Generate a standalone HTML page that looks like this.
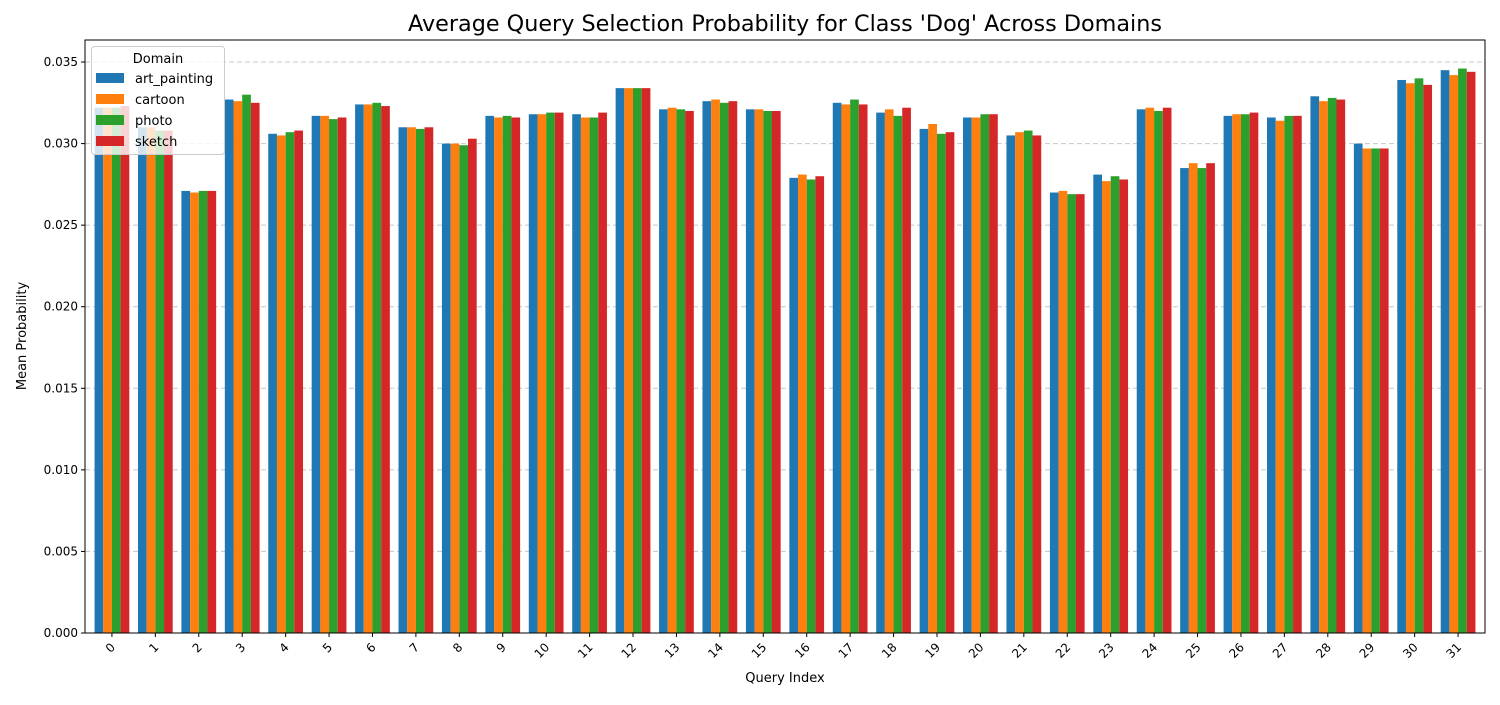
<!DOCTYPE html>
<html><head><meta charset="utf-8"><style>
body{margin:0;background:#fff;font-family:"Liberation Sans","DejaVu Sans",sans-serif;}
svg text{font-family:"DejaVu Sans","Liberation Sans",sans-serif;}
</style></head><body>
<svg id="chart" width="1500" height="700" xmlns="http://www.w3.org/2000/svg">
<text x="785" y="31" font-size="22.3" text-anchor="middle" fill="#000">Average Query Selection Probability for Class 'Dog' Across Domains</text>
<g id="grid"></g><g id="bars"></g><g id="axes"></g>
<text x="785" y="682" font-size="13" text-anchor="middle">Query Index</text>
<text x="26" y="336" font-size="13" text-anchor="middle" transform="rotate(-90 26 336)">Mean Probability</text>
<g id="legend"></g>
</svg>
<script>
const categories = Array.from({length:32},(_,i)=>String(i));
const seriesNames = ['art_painting','cartoon','photo','sketch'];
const seriesColors = ['#1f77b4','#ff7f0e','#2ca02c','#d62728'];
const artPainting = [0.0322,0.0310,0.0271,0.0327,0.0306,0.0317,0.0324,0.0310,0.0300,0.0317,0.0318,0.0318,0.0334,0.0321,0.0326,0.0321,0.0279,0.0325,0.0319,0.0309,0.0316,0.0305,0.0270,0.0281,0.0321,0.0285,0.0317,0.0316,0.0329,0.0300,0.0339,0.0345];
const cartoon = [0.0322,0.0310,0.0270,0.0326,0.0305,0.0317,0.0324,0.0310,0.0300,0.0316,0.0318,0.0316,0.0334,0.0322,0.0327,0.0321,0.0281,0.0324,0.0321,0.0312,0.0316,0.0307,0.0271,0.0277,0.0322,0.0288,0.0318,0.0314,0.0326,0.0297,0.0337,0.0342];
const photo = [0.0322,0.0308,0.0271,0.0330,0.0307,0.0315,0.0325,0.0309,0.0299,0.0317,0.0319,0.0316,0.0334,0.0321,0.0325,0.0320,0.0278,0.0327,0.0317,0.0306,0.0318,0.0308,0.0269,0.0280,0.0320,0.0285,0.0318,0.0317,0.0328,0.0297,0.0340,0.0346];
const sketch = [0.0323,0.0308,0.0271,0.0325,0.0308,0.0316,0.0323,0.0310,0.0303,0.0316,0.0319,0.0319,0.0334,0.0320,0.0326,0.0320,0.0280,0.0324,0.0322,0.0307,0.0318,0.0305,0.0269,0.0278,0.0322,0.0288,0.0319,0.0317,0.0327,0.0297,0.0336,0.0344];
const yTicks = [0,0.005,0.010,0.015,0.020,0.025,0.030,0.035];
const yTickLabels = ['0.000','0.005','0.010','0.015','0.020','0.025','0.030','0.035'];

const L=85,R=1485,T=40,B=633, xmin=-0.62, xmax=31.62, ymax=0.03635;
const xs=v=>L+(v-xmin)/(xmax-xmin)*(R-L);
const ys=v=>B-v/ymax*(B-T);
const NS='http://www.w3.org/2000/svg';
function mk(tag,attrs,parent){const e=document.createElementNS(NS,tag);for(const k in attrs)e.setAttribute(k,attrs[k]);parent.appendChild(e);return e;}
const grid=document.getElementById('grid'),bars=document.getElementById('bars'),axes=document.getElementById('axes'),legend=document.getElementById('legend');
yTicks.forEach((t,i)=>{
  const y=ys(t);
  if(t>0){const g=mk('line',{x1:L,x2:R,y1:y,y2:y,stroke:'#c8c8c8','stroke-dasharray':'5,3','stroke-width':1},grid);
  
  }
  mk('line',{x1:L-4,x2:L,y1:y,y2:y,stroke:'#000'},axes);
  const tx=mk('text',{x:L-7,y:y+4,'font-size':12,'text-anchor':'end'},axes);tx.textContent=yTickLabels[i];
  
  
});
const all=[artPainting,cartoon,photo,sketch];
const bw=0.2;
categories.forEach((c,i)=>{
  all.forEach((s,j)=>{
    const x0=xs(i-0.4+j*bw), x1=xs(i-0.4+(j+1)*bw);
    const r=mk('rect',{x:x0,y:ys(s[i]),width:x1-x0,height:B-ys(s[i]),fill:seriesColors[j]},bars);
    
    
  });
  const x=xs(i);
  mk('line',{x1:x,x2:x,y1:B,y2:B+4,stroke:'#000'},axes);
  const tx=mk('text',{x:x+4,y:B+15,'font-size':12,'text-anchor':'end',transform:`rotate(-45 ${x+4} ${B+15})`},axes);
  tx.textContent=c;
  
  
});
mk('rect',{x:L,y:T,width:R-L,height:B-T,fill:'none',stroke:'#000','stroke-width':1},axes);
mk('rect',{x:91.5,y:46.5,width:133,height:108,rx:3,fill:'#fff','fill-opacity':0.8,stroke:'#ccc'},legend);
const lt=mk('text',{x:158,y:63,'font-size':13,'text-anchor':'middle'},legend);lt.textContent='Domain';
seriesNames.forEach((n,j)=>{
  const y=73+j*21;
  const sw=mk('rect',{x:96,y:y,width:28,height:10,fill:seriesColors[j]},legend);
  
  
  const t=mk('text',{x:135,y:y+10,'font-size':13},legend);t.textContent=n;
  
  
});
</script>
</body></html>
